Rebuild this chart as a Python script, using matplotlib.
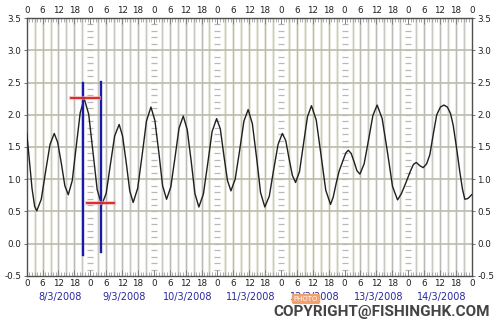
import matplotlib
matplotlib.use("Agg")
import matplotlib.pyplot as plt
from matplotlib.ticker import MultipleLocator

# ---- data (hours from 0:00 on 8/3/2008, tide height in metres) ----
tide_hours = [0, 1, 2, 3,
              3.8, 5.5, 7.1, 8.8, 10.4,
              11.7, 13.1, 14.4, 15.7,
              17.2, 18.7, 20.2, 21.7,
              23.4, 25.0, 26.6, 28.3,
              30.0, 31.6, 33.2, 34.9,
              36.2, 37.6, 38.9, 40.2,
              41.9, 43.6, 45.2, 46.9,
              48.4, 49.9, 51.3, 52.8,
              54.4, 56.0, 57.5, 59.1,
              60.6, 62.1, 63.5, 65.0,
              66.7, 68.4, 70.0, 71.7,
              73.1, 74.4, 75.8, 77.1,
              78.7, 80.4, 82.0, 83.6,
              85.2, 86.8, 88.3, 89.9,
              91.6, 93.2, 94.9, 96.5,
              97.8, 99.0, 100.3, 101.5,
              103.0, 104.5, 106.0, 107.5,
              109.3, 111.1, 112.9, 114.7,
              115.7, 116.8, 117.9, 119.5, 120.5, 121.4,
              122.5, 123.6, 124.7, 125.8,
              127.4, 129.1, 130.7, 132.3,
              134.2, 136.2, 138.1, 140.0,
              141.5, 143.1, 144.8, 146.0, 147.1, 148.4, 149.7,
              151.0, 152.2, 153.5, 154.8, 156.2, 157.5,
              158.8, 160.0, 161.0, 162.3, 163.5, 164.5, 165.4,
              166.5, 167.3, 168.0]
tide_heights = [1.72, 1.30, 0.86, 0.58,
                0.51, 0.69, 1.11, 1.54, 1.71,
                1.57, 1.24, 0.90, 0.76,
                0.98, 1.51, 2.03, 2.25,
                2.01, 1.43, 0.84, 0.60,
                0.78, 1.23, 1.67, 1.85,
                1.67, 1.25, 0.82, 0.64,
                0.86, 1.38, 1.90, 2.12,
                1.91, 1.41, 0.90, 0.69,
                0.88, 1.34, 1.79, 1.98,
                1.77, 1.28, 0.78, 0.57,
                0.77, 1.26, 1.74, 1.94,
                1.78, 1.38, 0.98, 0.82,
                1.00, 1.45, 1.90, 2.08,
                1.86, 1.33, 0.79, 0.57,
                0.74, 1.14, 1.54, 1.71,
                1.60, 1.33, 1.06, 0.95,
                1.12, 1.55, 1.97, 2.14,
                1.92, 1.38, 0.83, 0.61,
                0.72, 0.93, 1.12, 1.30, 1.41, 1.45,
                1.40, 1.27, 1.13, 1.08,
                1.24, 1.62, 1.99, 2.15,
                1.94, 1.42, 0.89, 0.68,
                0.78, 0.94, 1.12, 1.23, 1.26, 1.21, 1.18,
                1.24, 1.38, 1.70, 2.00, 2.12, 2.15,
                2.12, 2.02, 1.84, 1.48, 1.12, 0.85, 0.69,
                0.70, 0.73, 0.76]

date_labels = ["8/3/2008", "9/3/2008", "10/3/2008", "11/3/2008",
               "12/3/2008", "13/3/2008", "14/3/2008"]
hour_tick_labels = ["0", "6", "12", "18"]

# cursor marks drawn on the chart
blue_x = [21.4, 27.9]
blue_ymin = [-0.17, -0.13]
blue_ymax = [2.49, 2.51]
red_y = [2.26, 0.63]
red_xmin = [16.9, 22.6]
red_xmax = [27.3, 33.0]

# ---- figure ----
fig = plt.figure(figsize=(5, 3.25), dpi=100)
ax = fig.add_axes([0.0534, 0.1508, 0.89, 0.7938])
ax.set_xlim(0, 168)
ax.set_ylim(-0.5, 3.5)

# vertical grid every 3 h (not at day boundaries)
for h in range(3, 168, 3):
    if h % 24 == 0:
        continue
    col = "#bcbcb4" if h % 6 == 0 else "#cacac2"
    ax.axvline(h, color="#ecece2", lw=2.2, zorder=1)
    ax.axvline(h, color=col, lw=0.8, zorder=1)
# day boundary "rulers": short dashes every 0.1
for d in range(1, 7):
    ys = [v / 10 for v in range(-5, 36)]
    ax.plot([24 * d] * len(ys), ys, linestyle="none", marker="_",
            markersize=4, color="#b8b8b4", mew=0.9, zorder=1)
# horizontal grid every 0.5
for v in [0.0, 0.5, 1.0, 1.5, 2.0, 2.5, 3.0]:
    ax.axhline(v, color="#bcbcac", lw=1.2, zorder=1)

# tide curve
ax.plot(tide_hours, tide_heights, color="#202020", lw=1.0, zorder=3)

# cursor marks
for x, y0, y1 in zip(blue_x, blue_ymin, blue_ymax):
    ax.plot([x, x], [y0, y1], color="#1a1aa8", lw=1.7, zorder=4)
for y, x0, x1 in zip(red_y, red_xmin, red_xmax):
    ax.plot([x0, x1], [y, y], color="#f0a0a0", lw=3.0, alpha=0.6, zorder=4)
    ax.plot([x0, x1], [y, y], color="#d82020", lw=1.3, zorder=5)

# ticks
xt = list(range(0, 169, 6))
ax.set_xticks(xt)
ax.set_xticklabels([hour_tick_labels[(t // 6) % 4] for t in xt])
ax.xaxis.set_minor_locator(MultipleLocator(1))
ax.tick_params(axis="x", which="major", top=True, bottom=True,
               labeltop=True, labelbottom=True, direction="in",
               length=4, width=0.7, color="#808080", labelsize=6.3,
               labelcolor="#202020", pad=2)
ax.tick_params(axis="x", which="minor", top=True, bottom=True,
               direction="in", length=3, width=0.6, color="#a0a0a0")
ax.set_yticks([-0.5, 0.0, 0.5, 1.0, 1.5, 2.0, 2.5, 3.0, 3.5])
ax.set_yticklabels(["%.1f" % v for v in ax.get_yticks()])
ax.tick_params(axis="y", which="major", left=True, right=True,
               labelleft=True, labelright=True, direction="out",
               length=2, width=0.7, color="#707070", labelsize=6.3,
               labelcolor="#202020", pad=2)
for s in ax.spines.values():
    s.set_color("#505050")
    s.set_linewidth(1.0)

# date labels under each day
for i, lab in enumerate(date_labels):
    xc = 24 * i + 12
    xf = fig.transFigure.inverted().transform(ax.transData.transform((xc, 0)))[0]
    fig.text(xf + 0.004, 1 - 297 / 325, lab, ha="center", va="center",
             fontsize=7, color="#2828a0", family="DejaVu Sans")

# photo badge and copyright
fig.text(306 / 500, 1 - 299 / 325, "PHOTO", ha="center", va="center",
         fontsize=5, color="white", family="DejaVu Sans",
         bbox=dict(boxstyle="round,pad=0.3", fc="#f3a070", ec="none"),
         zorder=10)
fig.text(382 / 500, 1 - 312 / 325, "COPYRIGHT@FISHINGHK.COM", ha="center",
         va="center", fontsize=11, fontweight="bold", color="#444444",
         family="Roboto", zorder=11)

fig.savefig("out.png", dpi=100, facecolor="white")
